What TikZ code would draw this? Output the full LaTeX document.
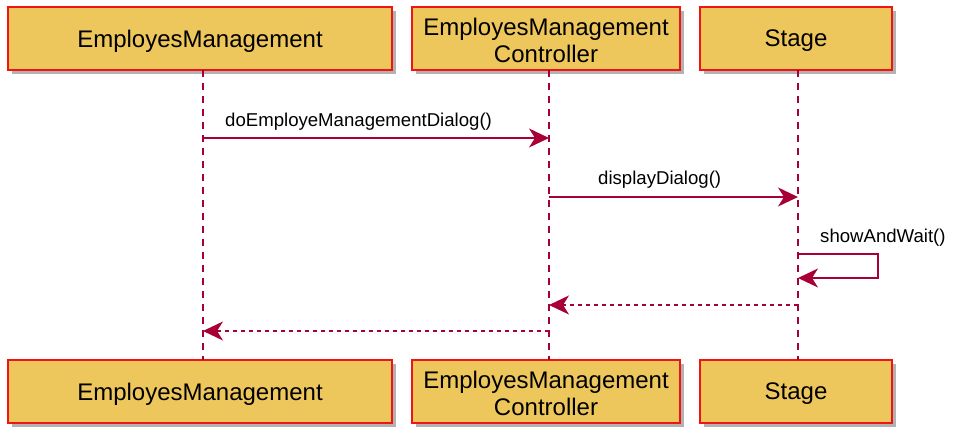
\documentclass[tikz,border=0pt]{standalone}
\usepackage{fontspec}
\setmainfont{Liberation Sans}
\usetikzlibrary{arrows.meta,shadows}
\definecolor{boxfill}{RGB}{238,199,92}
\definecolor{boxline}{RGB}{240,20,20}
\definecolor{umlred}{RGB}{168,0,54}
\tikzset{
  partbox/.style={draw=boxline, line width=1.3bp, fill=boxfill, minimum height=63bp,
    inner sep=0pt,
    drop shadow={shadow xshift=4bp, shadow yshift=-4bp, fill=black, opacity=0.3}},
  parttext/.style={inner sep=0pt, align=center, font=\fontsize{24bp}{28bp}\selectfont},
  lifeline/.style={draw=umlred, line width=1.3bp, dash pattern=on 7bp off 6bp},
  msg/.style={draw=umlred, line width=1.3bp, -{Stealth[length=20bp,width=19bp,inset=6bp]}},
  ret/.style={msg, dash pattern=on 4bp off 4bp},
  msglabel/.style={font=\fontsize{18.6bp}{22bp}\selectfont, inner sep=0pt, anchor=west}
}
\begin{document}
\begin{tikzpicture}[x=1bp,y=-1bp]
\useasboundingbox (0,0) rectangle (960,443);
% top participants
\node[partbox, minimum width=384bp] (a1) at (200,38.5) {};
\node[partbox, minimum width=268bp] (b1) at (546,38.5) {};
\node[partbox, minimum width=192bp] (c1) at (796,38.5) {};
\node[parttext] (a1t) at ([yshift=-2.5bp]a1.center) {EmployesManagement};
\node[parttext] (b1t) at ([yshift=-2bp]b1.center) {EmployesManagement\\[-1bp]Controller};
\node[parttext] (c1t) at ([yshift=-2.5bp]c1.center) {Stage};
% bottom participants
\node[partbox, minimum width=384bp] (a2) at (200,391.5) {};
\node[partbox, minimum width=268bp] (b2) at (546,391.5) {};
\node[partbox, minimum width=192bp] (c2) at (796,391.5) {};
\node[parttext] (a2t) at ([yshift=-2.5bp]a2.center) {EmployesManagement};
\node[parttext] (b2t) at ([yshift=-2bp]b2.center) {EmployesManagement\\[-1bp]Controller};
\node[parttext] (c2t) at ([yshift=-2.5bp]c2.center) {Stage};
% lifeline coordinates
\coordinate (at) at (203,70);  \coordinate (ab) at (203,360);
\coordinate (bt) at (549,70);  \coordinate (bb) at (549,360);
\coordinate (ct) at (798,70);  \coordinate (cb) at (798,360);
\draw[lifeline] (at) -- (ab);
\draw[lifeline] (bt) -- (bb);
\draw[lifeline] (ct) -- (cb);
% message points
\coordinate (m1s) at (203,138); \coordinate (m1e) at (549,138);
\coordinate (m2s) at (549,197); \coordinate (m2e) at (798,197);
\coordinate (s1) at (798,254); \coordinate (s2) at (878,254);
\coordinate (s3) at (878,278); \coordinate (s4) at (798,278);
\coordinate (r1s) at (798,305); \coordinate (r1e) at (549,305);
\coordinate (r2s) at (549,331); \coordinate (r2e) at (203,331);
\draw[msg] (m1s) -- (m1e);
\node[msglabel] (l1) at (225,122) {doEmployeManagementDialog()};
\draw[msg] (m2s) -- (m2e);
\node[msglabel] (l2) at (598,180) {displayDialog()};
\draw[msg] (s1) -- (s2) -- (s3) -- (s4);
\node[msglabel] (l3) at (820,238) {showAndWait()};
\draw[ret] (r1s) -- (r1e);
\draw[ret] (r2s) -- (r2e);
\end{tikzpicture}
\end{document}
